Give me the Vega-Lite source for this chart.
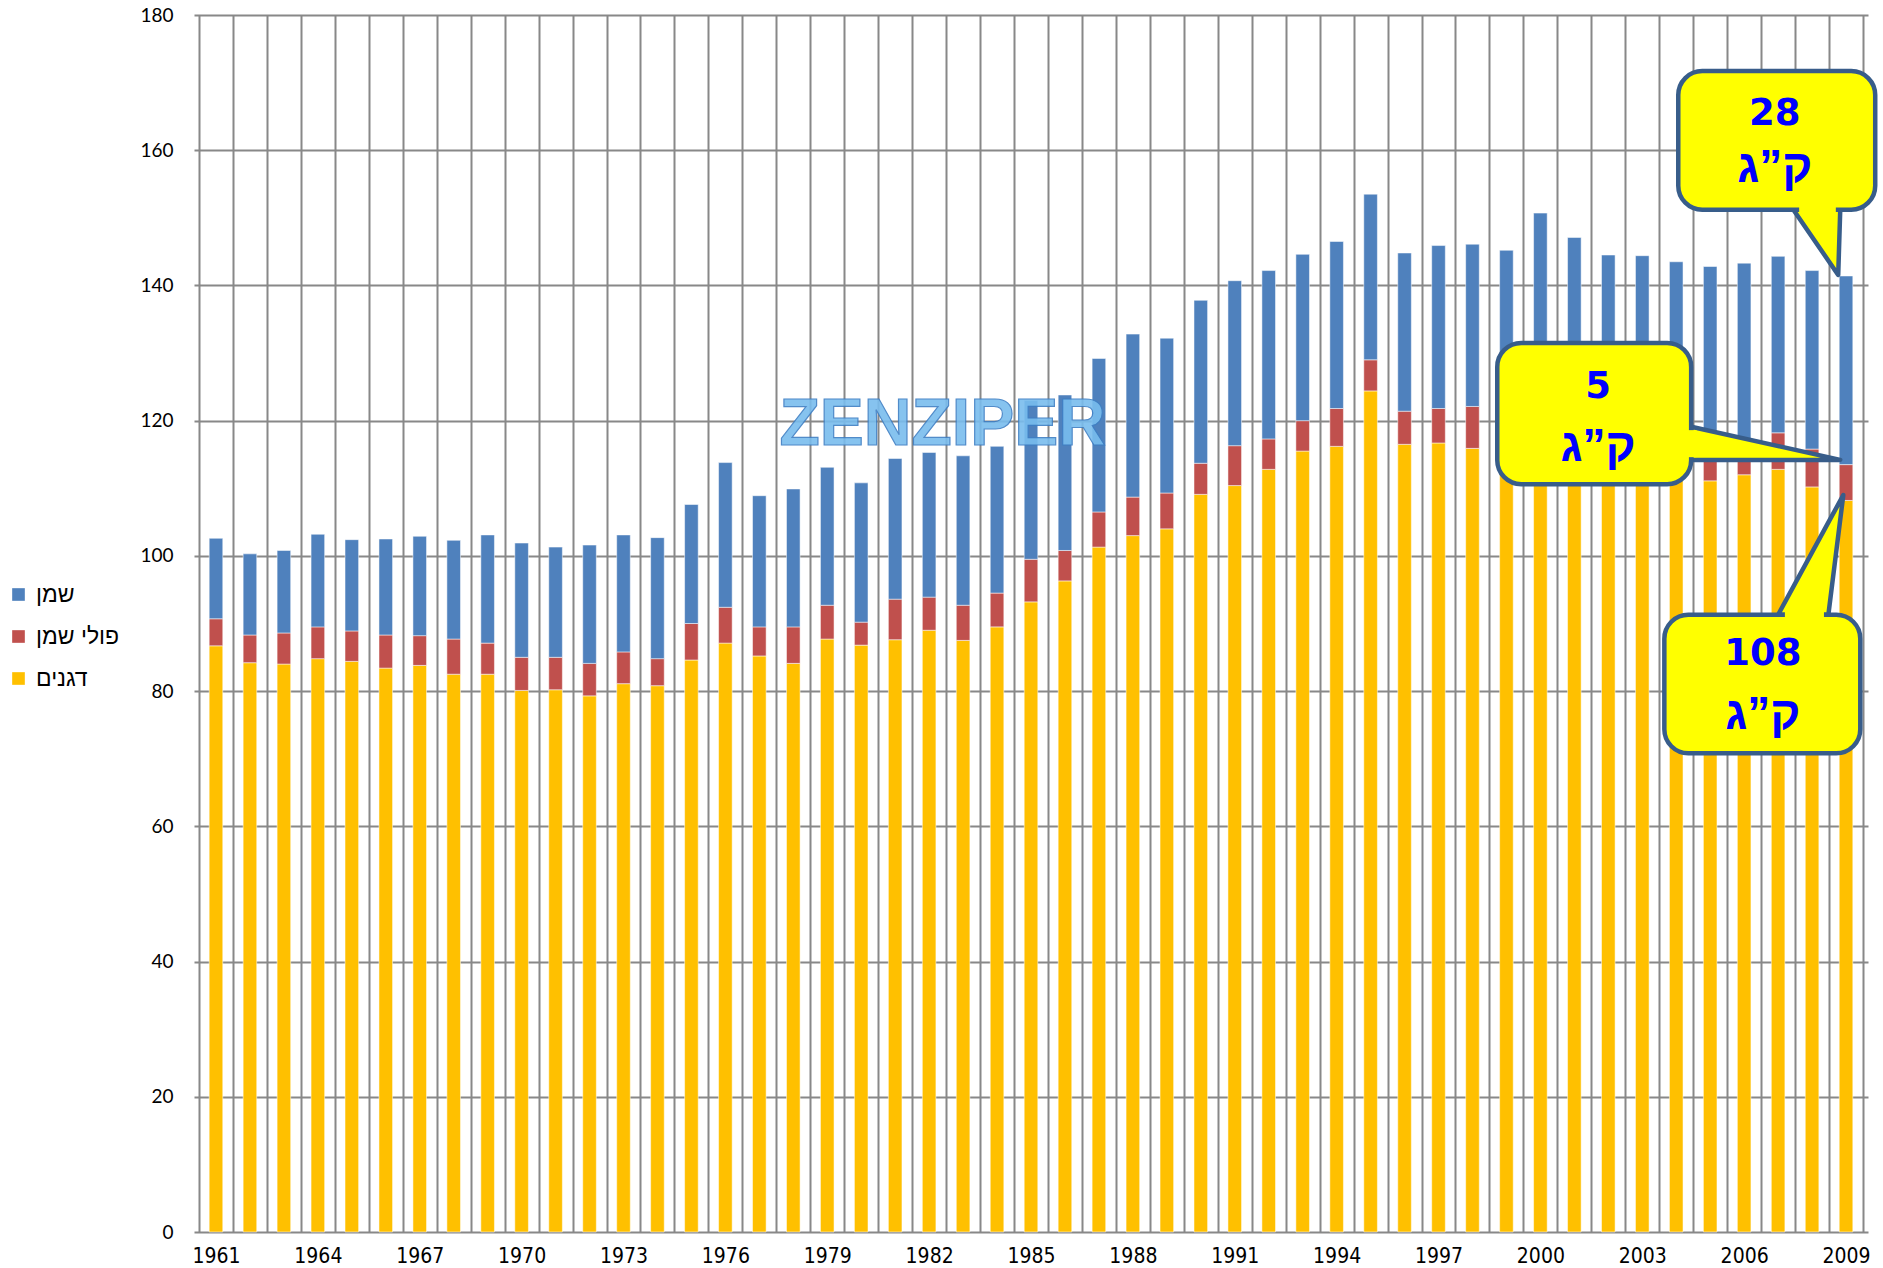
{
  "$schema": "https://vega.github.io/schema/vega-lite/v6.json",
  "width": 1674,
  "height": 1217,
  "autosize": "none",
  "padding": {"left": 194, "top": 15, "right": 15, "bottom": 36},
  "background": "white",
  "config": {"view": {"stroke": null}},
  "resolve": {"axis": {"x": "independent"}},
  "layer": [
    {
      "data": {"values": [
        {"year":1961,"series":"דגנים","kg":86.7},{"year":1961,"series":"פולי שמן","kg":4.0},{"year":1961,"series":"שמן","kg":11.9},
        {"year":1962,"series":"דגנים","kg":84.2},{"year":1962,"series":"פולי שמן","kg":4.1},{"year":1962,"series":"שמן","kg":12.0},
        {"year":1963,"series":"דגנים","kg":84.0},{"year":1963,"series":"פולי שמן","kg":4.6},{"year":1963,"series":"שמן","kg":12.2},
        {"year":1964,"series":"דגנים","kg":84.8},{"year":1964,"series":"פולי שמן","kg":4.7},{"year":1964,"series":"שמן","kg":13.7},
        {"year":1965,"series":"דגנים","kg":84.4},{"year":1965,"series":"פולי שמן","kg":4.5},{"year":1965,"series":"שמן","kg":13.5},
        {"year":1966,"series":"דגנים","kg":83.4},{"year":1966,"series":"פולי שמן","kg":4.9},{"year":1966,"series":"שמן","kg":14.2},
        {"year":1967,"series":"דגנים","kg":83.8},{"year":1967,"series":"פולי שמן","kg":4.4},{"year":1967,"series":"שמן","kg":14.7},
        {"year":1968,"series":"דגנים","kg":82.5},{"year":1968,"series":"פולי שמן","kg":5.2},{"year":1968,"series":"שמן","kg":14.6},
        {"year":1969,"series":"דגנים","kg":82.5},{"year":1969,"series":"פולי שמן","kg":4.6},{"year":1969,"series":"שמן","kg":16.0},
        {"year":1970,"series":"דגנים","kg":80.1},{"year":1970,"series":"פולי שמן","kg":4.9},{"year":1970,"series":"שמן","kg":16.9},
        {"year":1971,"series":"דגנים","kg":80.2},{"year":1971,"series":"פולי שמן","kg":4.8},{"year":1971,"series":"שמן","kg":16.3},
        {"year":1972,"series":"דגנים","kg":79.3},{"year":1972,"series":"פולי שמן","kg":4.8},{"year":1972,"series":"שמן","kg":17.5},
        {"year":1973,"series":"דגנים","kg":81.1},{"year":1973,"series":"פולי שמן","kg":4.7},{"year":1973,"series":"שמן","kg":17.3},
        {"year":1974,"series":"דגנים","kg":80.8},{"year":1974,"series":"פולי שמן","kg":4.0},{"year":1974,"series":"שמן","kg":17.9},
        {"year":1975,"series":"דגנים","kg":84.6},{"year":1975,"series":"פולי שמן","kg":5.4},{"year":1975,"series":"שמן","kg":17.6},
        {"year":1976,"series":"דגנים","kg":87.1},{"year":1976,"series":"פולי שמן","kg":5.3},{"year":1976,"series":"שמן","kg":21.4},
        {"year":1977,"series":"דגנים","kg":85.2},{"year":1977,"series":"פולי שמן","kg":4.3},{"year":1977,"series":"שמן","kg":19.4},
        {"year":1978,"series":"דגנים","kg":84.1},{"year":1978,"series":"פולי שמן","kg":5.4},{"year":1978,"series":"שמן","kg":20.4},
        {"year":1979,"series":"דגנים","kg":87.7},{"year":1979,"series":"פולי שמן","kg":5.0},{"year":1979,"series":"שמן","kg":20.4},
        {"year":1980,"series":"דגנים","kg":86.8},{"year":1980,"series":"פולי שמן","kg":3.4},{"year":1980,"series":"שמן","kg":20.6},
        {"year":1981,"series":"דגנים","kg":87.6},{"year":1981,"series":"פולי שמן","kg":6.0},{"year":1981,"series":"שמן","kg":20.8},
        {"year":1982,"series":"דגנים","kg":89.0},{"year":1982,"series":"פולי שמן","kg":4.9},{"year":1982,"series":"שמן","kg":21.4},
        {"year":1983,"series":"דגנים","kg":87.5},{"year":1983,"series":"פולי שמן","kg":5.2},{"year":1983,"series":"שמן","kg":22.1},
        {"year":1984,"series":"דגנים","kg":89.5},{"year":1984,"series":"פולי שמן","kg":5.0},{"year":1984,"series":"שמן","kg":21.7},
        {"year":1985,"series":"דגנים","kg":93.2},{"year":1985,"series":"פולי שמן","kg":6.3},{"year":1985,"series":"שמן","kg":23.5},
        {"year":1986,"series":"דגנים","kg":96.3},{"year":1986,"series":"פולי שמן","kg":4.5},{"year":1986,"series":"שמן","kg":23.0},
        {"year":1987,"series":"דגנים","kg":101.3},{"year":1987,"series":"פולי שמן","kg":5.2},{"year":1987,"series":"שמן","kg":22.7},
        {"year":1988,"series":"דגנים","kg":103.0},{"year":1988,"series":"פולי שמן","kg":5.7},{"year":1988,"series":"שמן","kg":24.1},
        {"year":1989,"series":"דגנים","kg":104.0},{"year":1989,"series":"פולי שמן","kg":5.3},{"year":1989,"series":"שמן","kg":22.9},
        {"year":1990,"series":"דגנים","kg":109.1},{"year":1990,"series":"פולי שמן","kg":4.6},{"year":1990,"series":"שמן","kg":24.1},
        {"year":1991,"series":"דגנים","kg":110.4},{"year":1991,"series":"פולי שמן","kg":5.9},{"year":1991,"series":"שמן","kg":24.4},
        {"year":1992,"series":"דגנים","kg":112.8},{"year":1992,"series":"פולי שמן","kg":4.5},{"year":1992,"series":"שמן","kg":24.9},
        {"year":1993,"series":"דגנים","kg":115.5},{"year":1993,"series":"פולי שמן","kg":4.5},{"year":1993,"series":"שמן","kg":24.6},
        {"year":1994,"series":"דגנים","kg":116.2},{"year":1994,"series":"פולי שמן","kg":5.6},{"year":1994,"series":"שמן","kg":24.7},
        {"year":1995,"series":"דגנים","kg":124.4},{"year":1995,"series":"פולי שמן","kg":4.6},{"year":1995,"series":"שמן","kg":24.5},
        {"year":1996,"series":"דגנים","kg":116.5},{"year":1996,"series":"פולי שמן","kg":4.9},{"year":1996,"series":"שמן","kg":23.4},
        {"year":1997,"series":"דגנים","kg":116.7},{"year":1997,"series":"פולי שמן","kg":5.1},{"year":1997,"series":"שמן","kg":24.1},
        {"year":1998,"series":"דגנים","kg":115.9},{"year":1998,"series":"פולי שמן","kg":6.2},{"year":1998,"series":"שמן","kg":24.0},
        {"year":1999,"series":"דגנים","kg":115.5},{"year":1999,"series":"פולי שמן","kg":5.5},{"year":1999,"series":"שמן","kg":24.2},
        {"year":2000,"series":"דגנים","kg":119.5},{"year":2000,"series":"פולי שמן","kg":5.5},{"year":2000,"series":"שמן","kg":25.7},
        {"year":2001,"series":"דגנים","kg":116.5},{"year":2001,"series":"פולי שמן","kg":5.2},{"year":2001,"series":"שמן","kg":25.4},
        {"year":2002,"series":"דגנים","kg":113.8},{"year":2002,"series":"פולי שמן","kg":5.0},{"year":2002,"series":"שמן","kg":25.7},
        {"year":2003,"series":"דגנים","kg":113.0},{"year":2003,"series":"פולי שמן","kg":5.0},{"year":2003,"series":"שמן","kg":26.4},
        {"year":2004,"series":"דגנים","kg":112.0},{"year":2004,"series":"פולי שמן","kg":4.8},{"year":2004,"series":"שמן","kg":26.7},
        {"year":2005,"series":"דגנים","kg":111.1},{"year":2005,"series":"פולי שמן","kg":5.4},{"year":2005,"series":"שמן","kg":26.3},
        {"year":2006,"series":"דגנים","kg":112.0},{"year":2006,"series":"פולי שמן","kg":4.5},{"year":2006,"series":"שמן","kg":26.8},
        {"year":2007,"series":"דגנים","kg":112.8},{"year":2007,"series":"פולי שמן","kg":5.4},{"year":2007,"series":"שמן","kg":26.1},
        {"year":2008,"series":"דגנים","kg":110.2},{"year":2008,"series":"פולי שמן","kg":5.6},{"year":2008,"series":"שמן","kg":26.4},
        {"year":2009,"series":"דגנים","kg":108.2},{"year":2009,"series":"פולי שמן","kg":5.3},{"year":2009,"series":"שמן","kg":27.9}
      ]},
      "mark": {"type": "bar", "width": 13.6, "stroke": "#ffffff", "strokeOpacity": 0.5, "strokeWidth": 1},
      "encoding": {
        "x": {
          "field": "year", "type": "quantitative", "title": null,
          "scale": {"domain": [1960.5, 2009.5], "nice": false, "zero": false},
          "axis": {
            "orient": "bottom",
            "values": [1961,1964,1967,1970,1973,1976,1979,1982,1985,1988,1991,1994,1997,2000,2003,2006,2009],
            "format": "d",
            "grid": false, "domain": false, "ticks": false,
            "labelFont": "Liberation Sans Narrow, DejaVu Sans Condensed, sans-serif",
            "labelFontSize": 21, "labelColor": "#000000", "labelPadding": 13
          }
        },
        "y": {
          "field": "kg", "type": "quantitative", "title": null, "stack": "zero",
          "scale": {"domain": [0, 180], "nice": false},
          "axis": {
            "values": [0,20,40,60,80,100,120,140,160,180],
            "domain": false, "ticks": false, "tickSize": 0,
            "grid": true, "gridColor": "#888888", "gridWidth": 2,
            "labelFont": "Lato, sans-serif", "labelFontSize": 19, "labelColor": "#000000", "labelPadding": 21
          }
        },
        "color": {
          "field": "series", "type": "nominal",
          "scale": {"domain": ["שמן", "פולי שמן", "דגנים"], "range": ["#4F81BD", "#C0504D", "#FFC000"]},
          "legend": {
            "title": null, "orient": "none", "legendX": -187, "legendY": 568,
            "symbolType": "square", "symbolSize": 160, "symbolStrokeWidth": 0,
            "labelFont": "Liberation Sans, sans-serif", "labelFontSize": 23, "labelColor": "#000000",
            "labelOffset": 6, "rowPadding": 18, "padding": 0
          }
        },
        "order": {"field": "series", "sort": "ascending"}
      }
    },
    {
      "data": {"values": [{"year": 1982.4, "kg": 119.3, "t": "ZENZIPER"}]},
      "mark": {"type": "text", "font": "Liberation Sans, sans-serif", "fontWeight": "bold", "fontSize": 66, "align": "center", "baseline": "middle", "fill": "#79BDEE", "stroke": "#3F7FC4", "strokeWidth": 1.2, "opacity": 0.9},
      "encoding": {
        "x": {
          "field": "year", "type": "quantitative", "title": null,
          "scale": {"domain": [1960.5, 2009.5], "nice": false, "zero": false},
          "axis": {
            "orient": "bottom",
            "values": [1960.5,1961.5,1962.5,1963.5,1964.5,1965.5,1966.5,1967.5,1968.5,1969.5,1970.5,1971.5,1972.5,1973.5,1974.5,1975.5,1976.5,1977.5,1978.5,1979.5,1980.5,1981.5,1982.5,1983.5,1984.5,1985.5,1986.5,1987.5,1988.5,1989.5,1990.5,1991.5,1992.5,1993.5,1994.5,1995.5,1996.5,1997.5,1998.5,1999.5,2000.5,2001.5,2002.5,2003.5,2004.5,2005.5,2006.5,2007.5,2008.5,2009.5],
            "labels": false, "domain": false, "ticks": false,
            "grid": true, "gridColor": "#888888", "gridWidth": 2
          }
        },
        "y": {"field": "kg", "type": "quantitative", "title": null},
        "text": {"field": "t"}
      }
    },
    {
      "data": {"values": [
        {"cid": "a", "year": 2007.45, "kg": 151.2, "kg2": 151.2},
        {"cid": "a", "year": 2008.77, "kg": 141.55, "kg2": 151.2},
        {"cid": "a", "year": 2008.83, "kg": 151.2, "kg2": 151.2},
        {"cid": "b", "year": 2004.44, "kg": 119.1, "kg2": 114.2},
        {"cid": "b", "year": 2008.83, "kg": 114.2, "kg2": 114.2},
        {"cid": "c", "year": 2007.0, "kg": 91.3, "kg2": 91.3},
        {"cid": "c", "year": 2008.48, "kg": 104.95, "kg2": 91.3},
        {"cid": "c", "year": 2008.92, "kg": 109.0, "kg2": 109.0}
      ]},
      "mark": {"type": "area", "fill": "#FFFF00", "fillOpacity": 1, "stroke": "#385D8A", "strokeWidth": 4.5, "strokeJoin": "round"},
      "encoding": {
        "x": {"field": "year", "type": "quantitative", "title": null, "axis": null},
        "y": {"field": "kg", "type": "quantitative", "title": null},
        "y2": {"field": "kg2"},
        "detail": {"field": "cid"}
      }
    },
    {
      "data": {"values": [
        {"year": 2004.06, "year2": 2009.86, "kg": 171.7, "kg2": 151.2},
        {"year": 1998.73, "year2": 2004.44, "kg": 131.5, "kg2": 110.6},
        {"year": 2003.65, "year2": 2009.42, "kg": 91.3, "kg2": 70.8}
      ]},
      "mark": {"type": "rect", "fill": "#FFFF00", "stroke": "#385D8A", "strokeWidth": 4.5, "cornerRadius": 24},
      "encoding": {
        "x": {"field": "year", "type": "quantitative", "title": null, "axis": null},
        "x2": {"field": "year2"},
        "y": {"field": "kg", "type": "quantitative", "title": null},
        "y2": {"field": "kg2"}
      }
    },
    {
      "data": {"values": [
        {"year": 2007.62, "year2": 2008.7, "kg": 151.75, "kg2": 150.7},
        {"year": 2004.25, "year2": 2004.6, "kg": 118.6, "kg2": 114.6},
        {"year": 2007.2, "year2": 2008.35, "kg": 91.85, "kg2": 90.8}
      ]},
      "mark": {"type": "rect", "fill": "#FFFF00", "strokeWidth": 0},
      "encoding": {
        "x": {"field": "year", "type": "quantitative", "title": null, "axis": null},
        "x2": {"field": "year2"},
        "y": {"field": "kg", "type": "quantitative", "title": null},
        "y2": {"field": "kg2"}
      }
    },
    {
      "data": {"values": [
        {"year": 2006.9, "kg": 165.4, "t": "28"},
        {"year": 2001.7, "kg": 125.0, "t": "5"},
        {"year": 2006.55, "kg": 85.5, "t": "108"}
      ]},
      "mark": {"type": "text", "font": "DejaVu Sans, sans-serif", "fontWeight": "bold", "fontSize": 37, "align": "center", "baseline": "middle", "fill": "#0000FF"},
      "encoding": {
        "x": {"field": "year", "type": "quantitative", "title": null, "axis": null},
        "y": {"field": "kg", "type": "quantitative", "title": null},
        "text": {"field": "t"}
      }
    },
    {
      "data": {"values": [
        {"year": 2006.9, "kg": 157.3, "t": "ק”ג"},
        {"year": 2001.7, "kg": 116.1, "t": "ק”ג"},
        {"year": 2006.55, "kg": 76.4, "t": "ק”ג"}
      ]},
      "mark": {"type": "text", "font": "Liberation Sans, sans-serif", "fontWeight": "bold", "fontSize": 46, "align": "center", "baseline": "middle", "fill": "#0000FF"},
      "encoding": {
        "x": {"field": "year", "type": "quantitative", "title": null, "axis": null},
        "y": {"field": "kg", "type": "quantitative", "title": null},
        "text": {"field": "t"}
      }
    }
  ]
}
